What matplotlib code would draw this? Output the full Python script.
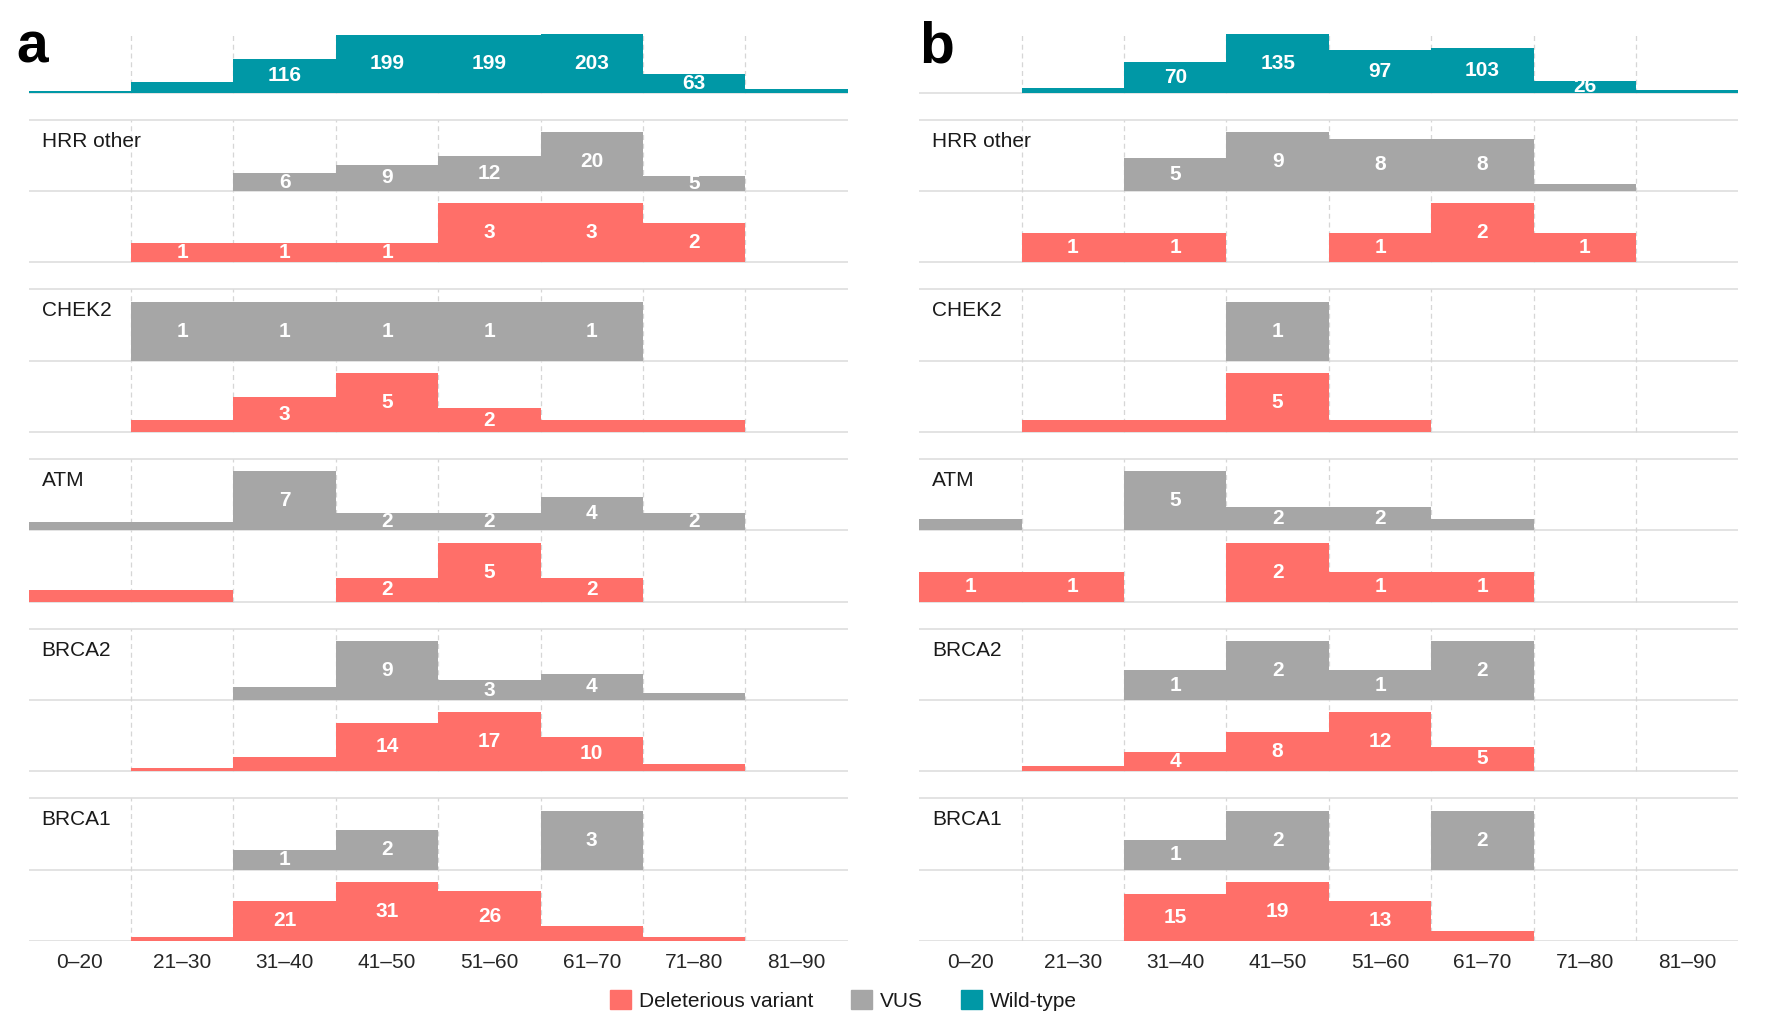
import numpy as np
import matplotlib
matplotlib.use("Agg")
import matplotlib.pyplot as plt
from matplotlib.patches import Patch

plt.rcParams["font.family"] = ["Liberation Sans", "DejaVu Sans"]

# ---- data (counts per age group; *_hide = bins whose bar carries no number) ----
ages = ["0–20", "21–30", "31–40", "41–50", "51–60", "61–70", "71–80", "81–90"]
genes = ["HRR other", "CHEK2", "ATM", "BRCA2", "BRCA1"]

# panel a
a_wt = [6, 35, 116, 199, 199, 203, 63, 14]
a_wt_hide = [0, 1, 7]
a_hrr_vus = [0, 0, 6, 9, 12, 20, 5, 0]
a_hrr_del = [0, 1, 1, 1, 3, 3, 2, 0]
a_chek2_vus = [0, 1, 1, 1, 1, 1, 0, 0]
a_chek2_del = [0, 1, 3, 5, 2, 1, 1, 0]
a_chek2_del_hide = [1, 5, 6]
a_atm_vus = [1, 1, 7, 2, 2, 4, 2, 0]
a_atm_vus_hide = [0, 1]
a_atm_del = [1, 1, 0, 2, 5, 2, 0, 0]
a_atm_del_hide = [0, 1]
a_brca2_vus = [0, 0, 2, 9, 3, 4, 1, 0]
a_brca2_vus_hide = [2, 6]
a_brca2_del = [0, 1, 4, 14, 17, 10, 2, 0]
a_brca2_del_hide = [1, 2, 6]
a_brca1_vus = [0, 0, 1, 2, 0, 3, 0, 0]
a_brca1_del = [0, 2, 21, 31, 26, 8, 2, 0]
a_brca1_del_hide = [1, 5, 6]

# panel b
b_wt = [0, 11, 70, 135, 97, 103, 26, 6]
b_wt_hide = [1, 7]
b_hrr_vus = [0, 0, 5, 9, 8, 8, 1, 0]
b_hrr_vus_hide = [6]
b_hrr_del = [0, 1, 1, 0, 1, 2, 1, 0]
b_chek2_vus = [0, 0, 0, 1, 0, 0, 0, 0]
b_chek2_del = [0, 1, 1, 5, 1, 0, 0, 0]
b_chek2_del_hide = [1, 2, 4]
b_atm_vus = [1, 0, 5, 2, 2, 1, 0, 0]
b_atm_vus_hide = [0, 5]
b_atm_del = [1, 1, 0, 2, 1, 1, 0, 0]
b_brca2_vus = [0, 0, 1, 2, 1, 2, 0, 0]
b_brca2_del = [0, 1, 4, 8, 12, 5, 0, 0]
b_brca2_del_hide = [1]
b_brca1_vus = [0, 0, 1, 2, 0, 2, 0, 0]
b_brca1_del = [0, 0, 15, 19, 13, 3, 0, 0]
b_brca1_del_hide = [5]

RED, GREY, TEAL = "#FF6F69", "#A6A6A6", "#0098A6"
GRID = "#E3E3E3"
PEAK = 52      # tallest bar of each row
ROW = 63       # distance between VUS and deleterious baselines
STEP = 150     # distance between gene blocks

panels = {
    "a": dict(wt=(a_wt, a_wt_hide),
              rows=[(a_hrr_vus, [], a_hrr_del, []),
                    (a_chek2_vus, [], a_chek2_del, a_chek2_del_hide),
                    (a_atm_vus, a_atm_vus_hide, a_atm_del, a_atm_del_hide),
                    (a_brca2_vus, a_brca2_vus_hide, a_brca2_del, a_brca2_del_hide),
                    (a_brca1_vus, [], a_brca1_del, a_brca1_del_hide)]),
    "b": dict(wt=(b_wt, b_wt_hide),
              rows=[(b_hrr_vus, b_hrr_vus_hide, b_hrr_del, []),
                    (b_chek2_vus, [], b_chek2_del, b_chek2_del_hide),
                    (b_atm_vus, b_atm_vus_hide, b_atm_del, []),
                    (b_brca2_vus, [], b_brca2_del, b_brca2_del_hide),
                    (b_brca1_vus, [], b_brca1_del, b_brca1_del_hide)]),
}


def draw_row(ax, counts, base, color, hide):
    c = np.asarray(counts, float)
    h = c / c.max() * PEAK
    ax.stairs(base + h, np.arange(len(c) + 1), baseline=base, fill=True,
              color=color, lw=0, zorder=3)
    for i, n in enumerate(counts):
        if n and i not in hide:
            ax.text(i + 0.5, base + h[i] / 2, str(n), ha="center", va="center",
                    color="white", fontsize=15, fontweight="bold",
                    zorder=4, clip_on=False)


fig = plt.figure(figsize=(17.72, 10.22), dpi=100)
lefts = {"a": 0.0162, "b": 0.5188}
letter_x = {"a": 0.0090, "b": 0.519}

for key, p in panels.items():
    ax = fig.add_axes([lefts[key], 0.0795, 0.4622, 0.8874])
    n = len(ages)
    wt_base = len(genes) * STEP
    ax.set_xlim(0, n)
    ax.set_ylim(0, wt_base + PEAK)

    # wild-type block
    ax.axhline(wt_base, color=GRID, lw=1.4, zorder=1)
    ax.vlines(np.arange(1, n), wt_base, wt_base + PEAK, color="#D6D6D6",
              lw=0.9, linestyles=(0, (4, 3)), zorder=1)
    draw_row(ax, p["wt"][0], wt_base, TEAL, p["wt"][1])

    # gene blocks, top to bottom
    for k, (gene, (vus, vus_hide, dele, del_hide)) in enumerate(zip(genes, p["rows"])):
        base = (len(genes) - 1 - k) * STEP
        top = base + 2 * ROW
        for y in (base, base + ROW, top):
            ax.axhline(y, color=GRID, lw=1.4, zorder=1)
        ax.vlines(np.arange(1, n), base, top, color="#D6D6D6",
                  lw=0.9, linestyles=(0, (4, 3)), zorder=1)
        draw_row(ax, vus, base + ROW, GREY, vus_hide)
        draw_row(ax, dele, base, RED, del_hide)
        ax.text(0.125, top - 19, gene, ha="left", va="center", fontsize=15,
                color="#1A1A1A", zorder=5)

    ax.set_xticks(np.arange(n) + 0.5)
    ax.set_xticklabels(ages, fontsize=15, color="#262626")
    ax.tick_params(axis="x", length=0, pad=9)
    ax.set_yticks([])
    for s in ax.spines.values():
        s.set_visible(False)

    fig.text(letter_x[key], 0.939, key, fontsize=41, fontweight="bold",
             ha="left", va="baseline", color="black")

handles = [Patch(color=RED), Patch(color=GREY), Patch(color=TEAL)]
fig.legend(handles, ["Deleterious variant", "VUS", "Wild-type"], loc="center",
           bbox_to_anchor=(0.476, 0.021), ncol=3, frameon=False, fontsize=15,
           handlelength=1.0, handleheight=1.0, handletextpad=0.4,
           columnspacing=1.8, labelcolor="#1A1A1A")

fig.savefig("out.png", dpi=100)
